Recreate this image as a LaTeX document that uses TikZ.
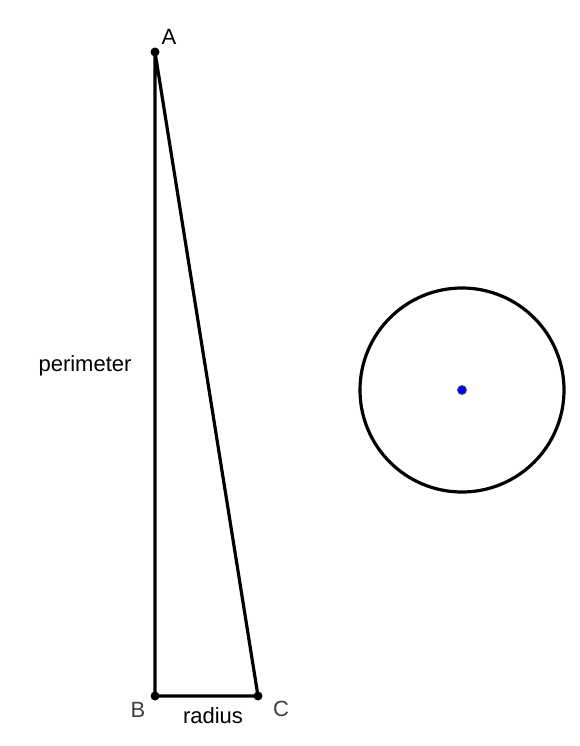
\documentclass[tikz,border=0pt]{standalone}
\usepackage{fontspec}
\setmainfont{Liberation Sans}
\begin{document}
\begin{tikzpicture}[x=1pt,y=-1pt,
  seg/.style={line width=3.2pt, line cap=round, line join=round},
  pt/.style={circle, fill=black, inner sep=0pt, minimum size=9pt},
  ctr/.style={circle, fill=blue, draw=black!70, line width=0.8pt, inner sep=0pt, minimum size=9pt},
  lbl/.style={font=\fontsize{22}{26}\selectfont, inner sep=0pt},
  ptlbl/.style={lbl, text=black!75}]
\useasboundingbox (0,0) rectangle (579,746);
\fill[white] (0,0) rectangle (579,746);
\node[pt] (A) at (155,52) {};
\node[pt] (B) at (155,696) {};
\node[pt] (C) at (258,696) {};
\draw[seg] (A.center) -- (B.center) -- (C.center) -- cycle;
\node[lbl] (la) at (169,37) {A};
\node[ptlbl] (lb) at (138,710) {B};
\node[ptlbl] (lc) at (281,709) {C};
\node[lbl] (per) at (85,366) {perimeter};
\node[lbl] (rad) at (213,716) {radius};
\coordinate (O) at (462,390);
\draw[line width=3.2pt] (O) circle (102);
\node[ctr] (Oc) at (O) {};
\end{tikzpicture}
\end{document}
